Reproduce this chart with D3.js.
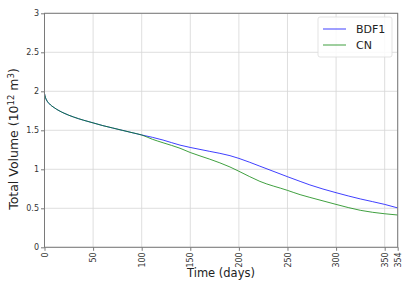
<!DOCTYPE html>
<html><head><meta charset="utf-8">
<script src="https://cdn.jsdelivr.net/npm/d3@7"></script>
<style>body{margin:0;background:#fff}svg{display:block}text{font-family:"DejaVu Sans",sans-serif}</style>
</head><body><svg id="c" width="413" height="285"></svg>
<script>
const days = [0,1,2,5,10,20,30,40,50,60,70,80,90,100,111,122,139.4,150,170,190.8,200,221.6,250,263,273,300,325,350,363.4];
const bdf1 = [1.97,1.92,1.89,1.84,1.79,1.72,1.67,1.63,1.595,1.56,1.53,1.50,1.47,1.44,1.41,1.375,1.31,1.28,1.23,1.175,1.14,1.04,0.905,0.845,0.80,0.70,0.62,0.55,0.505];
const cn   = [1.97,1.92,1.89,1.84,1.79,1.72,1.67,1.63,1.595,1.56,1.53,1.50,1.47,1.44,1.385,1.34,1.27,1.215,1.13,1.03,0.975,0.845,0.73,0.675,0.64,0.55,0.474,0.43,0.414];
const xTickValues = [0,50,100,150,200,250,300,350,363.4];
const xTickLabels = ["0","50","100","150","200","250","300","350","354"];
const yTicks = [0,0.5,1,1.5,2,2.5,3];
const seriesNames = ["BDF1","CN"];
const seriesColors = ["#0000ff","#008000"];

const svg = d3.select("#c");
const L=44.5, R=397.7, T=13.3, B=247.3;
const x = d3.scaleLinear().domain([0,363.4]).range([L,R]);
const y = d3.scaleLinear().domain([0,3]).range([B,T]);

// grid
const g = svg.append("g");
g.selectAll(".vx").data(xTickValues).enter().append("line")
  .attr("x1",d=>x(d)).attr("x2",d=>x(d)).attr("y1",T).attr("y2",B)
  .attr("stroke","#d6d6d6").attr("stroke-width",0.8);
g.selectAll(".hy").data(yTicks).enter().append("line")
  .attr("x1",L).attr("x2",R).attr("y1",d=>y(d)).attr("y2",d=>y(d))
  .attr("stroke","#d6d6d6").attr("stroke-width",0.8);

// lines
const line = d3.line().x((d,i)=>x(days[i])).y(d=>y(d)).curve(d3.curveMonotoneX);
[bdf1,cn].forEach((s,k)=>{
  svg.append("path").attr("d",line(s)).attr("fill","none")
    .attr("stroke",seriesColors[k]).attr("stroke-width",1).attr("opacity",0.75);
});

// frame
svg.append("rect").attr("x",L).attr("y",T).attr("width",R-L).attr("height",B-T)
  .attr("fill","none").attr("stroke","#7a7a7a").attr("stroke-width",1);

// axes
const xa = d3.axisBottom(x).tickValues(xTickValues).tickFormat((d,i)=>xTickLabels[i]).tickSize(3.5).tickPadding(2);
const xg = svg.append("g").attr("transform",`translate(0,${B})`).call(xa);
xg.select(".domain").remove();
xg.selectAll("line").attr("stroke","#7a7a7a");
xg.selectAll("text").attr("transform","rotate(-90)").attr("text-anchor","end")
  .attr("x",-5).attr("y",0).attr("dy","0.32em").attr("font-size",8).attr("fill","#333");

const ya = d3.axisLeft(y).tickValues(yTicks).tickFormat(d=>String(d)).tickSize(3.5).tickPadding(2);
const yg = svg.append("g").attr("transform",`translate(${L},0)`).call(ya);
yg.select(".domain").remove();
yg.selectAll("line").attr("stroke","#7a7a7a");
yg.selectAll("text").attr("font-size",8).attr("fill","#333");

// labels
svg.append("text").attr("x",221).attr("y",276.5).attr("text-anchor","middle")
  .attr("font-size",11.5).attr("fill","#222").text("Time (days)");
const yl = svg.append("text").attr("transform",`translate(18,139) rotate(-90)`)
  .attr("text-anchor","middle").attr("font-size",12.5).attr("fill","#222");
yl.append("tspan").text("Total Volume (10");
yl.append("tspan").attr("font-size",8.5).attr("dy",-4.5).text("12");
yl.append("tspan").attr("dy",4.5).text(" m");
yl.append("tspan").attr("font-size",8.5).attr("dy",-4.5).text("3");
yl.append("tspan").attr("dy",4.5).text(")");

// legend
const lg = svg.append("g");
lg.append("rect").attr("x",318).attr("y",17).attr("width",74).attr("height",40).attr("rx",2)
  .attr("fill","#fff").attr("fill-opacity",0.85).attr("stroke","#dcdcdc").attr("stroke-width",0.8);
seriesNames.forEach((n,i)=>{
  const yy = 29 + i*16;
  lg.append("line").attr("x1",323).attr("x2",346).attr("y1",yy).attr("y2",yy)
    .attr("stroke",seriesColors[i]).attr("stroke-width",1).attr("opacity",0.75);
  lg.append("text").attr("x",356).attr("y",yy).attr("dy","0.36em").attr("font-size",11)
    .attr("fill","#222").text(n);
});
</script></body></html>
